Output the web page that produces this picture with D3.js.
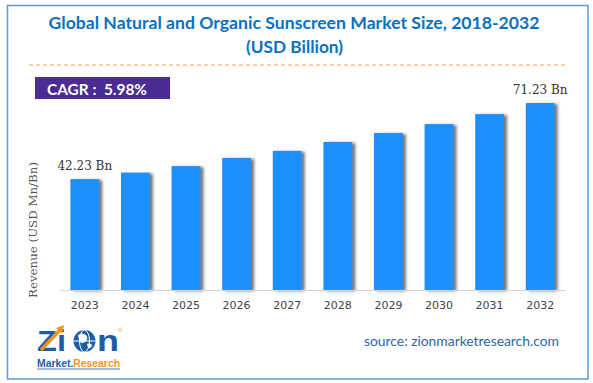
<!DOCTYPE html>
<html>
<head>
<meta charset="utf-8">
<script src="https://cdn.jsdelivr.net/npm/d3@7"></script>
<style>
  html, body { margin: 0; padding: 0; background: #fff; }
  svg { display: block; }
</style>
</head>
<body>
<div id="chart"></div>
<script>
const years = ["2023", "2024", "2025", "2026", "2027", "2028", "2029", "2030", "2031", "2032"];
const revenue = [42.23, 44.7, 47.2, 50.3, 53.0, 56.4, 59.8, 63.2, 67.0, 71.23];
const valueLabels = ["42.23 Bn", "", "", "", "", "", "", "", "", "71.23 Bn"];
const titleLines = ["Global Natural and Organic Sunscreen Market Size, 2018-2032", "(USD Billion)"];
const cagrText = "CAGR :\u00a0 5.98%";
const yAxisTitle = "Revenue (USD Mn/Bn)";
const sourceText = "source: zionmarketresearch.com";

const W = 593, H = 383;
const svg = d3.select("#chart").append("svg").attr("width", W).attr("height", H);

const defs = svg.append("defs");
const f = defs.append("filter").attr("id", "shadow").attr("x", "-20%").attr("y", "-10%").attr("width", "150%").attr("height", "130%");
f.append("feDropShadow").attr("dx", 3).attr("dy", 1).attr("stdDeviation", 1.6)
  .attr("flood-color", "#444").attr("flood-opacity", 0.75);

// frame
svg.append("rect").attr("x", 7.5).attr("y", 5.5).attr("width", 580.5).attr("height", 373.5)
  .attr("fill", "none").attr("stroke", "#5b9bd5").attr("stroke-width", 1.5);

// title
svg.append("text").attr("x", 294).attr("y", 29).attr("text-anchor", "middle")
  .attr("font-family", "Lato, 'Open Sans', sans-serif").attr("font-weight", "bold").attr("font-size", 17)
  .attr("fill", "#0b70c0").attr("textLength", 491).attr("lengthAdjust", "spacingAndGlyphs")
  .text(titleLines[0]);
svg.append("text").attr("x", 294.5).attr("y", 53).attr("text-anchor", "middle")
  .attr("font-family", "Lato, 'Open Sans', sans-serif").attr("font-weight", "bold").attr("font-size", 17)
  .attr("fill", "#0b70c0").attr("textLength", 97).attr("lengthAdjust", "spacingAndGlyphs")
  .text(titleLines[1]);

// dashed separator
svg.append("line").attr("x1", 29).attr("x2", 568).attr("y1", 65).attr("y2", 65)
  .attr("stroke", "#f5a05a").attr("stroke-width", 1.2).attr("stroke-dasharray", "4,3");

// CAGR box
svg.append("rect").attr("x", 35).attr("y", 77).attr("width", 135).attr("height", 22).attr("fill", "#4a2c94");
svg.append("text").attr("x", 47).attr("y", 95)
  .attr("font-family", "Lato, 'Open Sans', sans-serif").attr("font-weight", "bold").attr("font-size", 15)
  .attr("fill", "#fff").attr("textLength", 100).attr("lengthAdjust", "spacingAndGlyphs")
  .text(cagrText);

// scales
const x = d3.scaleBand().domain(years).range([60, 565]).paddingInner(0.43).paddingOuter(0.205);
const y = d3.scaleLinear().domain([0, 80]).range([290, 80]);

// bars
svg.append("g").selectAll("rect").data(years).join("rect")
  .attr("x", d => x(d))
  .attr("y", (d, i) => y(revenue[i]))
  .attr("width", x.bandwidth())
  .attr("height", (d, i) => y(0) - y(revenue[i]))
  .attr("fill", "#1e90ff")
  .attr("filter", "url(#shadow)");

// value labels
svg.append("g").selectAll("text").data(years).join("text")
  .attr("x", d => x(d) + x.bandwidth() / 2)
  .attr("y", (d, i) => y(revenue[i]) - 9)
  .attr("text-anchor", "middle")
  .attr("font-family", "'DejaVu Serif', serif").attr("font-size", 12)
  .attr("fill", "#333")
  .text((d, i) => valueLabels[i]);

// x axis
const xAxis = svg.append("g").attr("transform", "translate(0,290)")
  .call(d3.axisBottom(x).tickSize(0).tickSizeOuter(0).tickPadding(11));
xAxis.select(".domain").attr("stroke", "#d4d4d4").attr("stroke-width", 1);
xAxis.selectAll("text").attr("font-family", "'DejaVu Sans', sans-serif").attr("font-size", 11).attr("fill", "#444");

// y axis title
svg.append("text").attr("transform", "translate(37,230) rotate(-90)")
  .attr("text-anchor", "middle")
  .attr("font-family", "'DejaVu Serif', serif").attr("font-size", 11)
  .attr("fill", "#555").attr("textLength", 136).attr("lengthAdjust", "spacingAndGlyphs")
  .text(yAxisTitle);

// source
svg.append("text").attr("x", 364).attr("y", 346)
  .attr("font-family", "Lato, 'Open Sans', sans-serif").attr("font-size", 14)
  .attr("fill", "#2f65a3").attr("textLength", 195).attr("lengthAdjust", "spacingAndGlyphs")
  .text(sourceText);

// logo
const logo = svg.append("g");
const blue = "#1b5ea8", orange = "#f7941d";
logo.append("text").attr("x", 37).attr("y", 351)
  .attr("font-family", "'Liberation Sans', Arial, sans-serif").attr("font-weight", "bold").attr("font-size", 30)
  .attr("fill", blue).attr("textLength", 29).attr("lengthAdjust", "spacingAndGlyphs").text("Zi");
logo.append("circle").attr("cx", 84.5).attr("cy", 341).attr("r", 11).attr("fill", blue);
logo.append("ellipse").attr("cx", 84.5).attr("cy", 341).attr("rx", 5).attr("ry", 11).attr("fill", "none").attr("stroke", "#fff").attr("stroke-width", 1);
logo.append("line").attr("x1", 73.5).attr("x2", 95.5).attr("y1", 341).attr("y2", 341).attr("stroke", "#fff").attr("stroke-width", 1);
logo.append("path").attr("d", "M78,335 q4,-3 8,0 q3,4 -1,7 q-4,3 -6,-2z M87,344 q3,-2 5,1 q-1,4 -4,3z").attr("fill", "#fff");
logo.append("text").attr("x", 97).attr("y", 351)
  .attr("font-family", "'Liberation Sans', Arial, sans-serif").attr("font-weight", "bold").attr("font-size", 30)
  .attr("fill", blue).attr("textLength", 22).attr("lengthAdjust", "spacingAndGlyphs").text("n");
logo.append("path").attr("d", "M41,350 L60,330").attr("stroke", orange).attr("stroke-width", 3.5).attr("fill", "none");
logo.append("path").attr("d", "M56,328 L64,325 L62,334 Z").attr("fill", orange);
logo.append("text").attr("x", 118).attr("y", 332).attr("font-family", "Arial, sans-serif").attr("font-size", 6).attr("fill", orange).text("®");
const mr = logo.append("text").attr("x", 37).attr("y", 367)
  .attr("font-family", "'Liberation Sans', Arial, sans-serif").attr("font-weight", "bold").attr("font-size", 10)
  .attr("textLength", 83).attr("lengthAdjust", "spacingAndGlyphs");
mr.append("tspan").attr("fill", blue).text("Market.");
mr.append("tspan").attr("fill", orange).text("Research");
logo.append("line").attr("x1", 37).attr("x2", 120).attr("y1", 369).attr("y2", 369).attr("stroke", blue).attr("stroke-width", 0.8);
</script>
</body>
</html>
